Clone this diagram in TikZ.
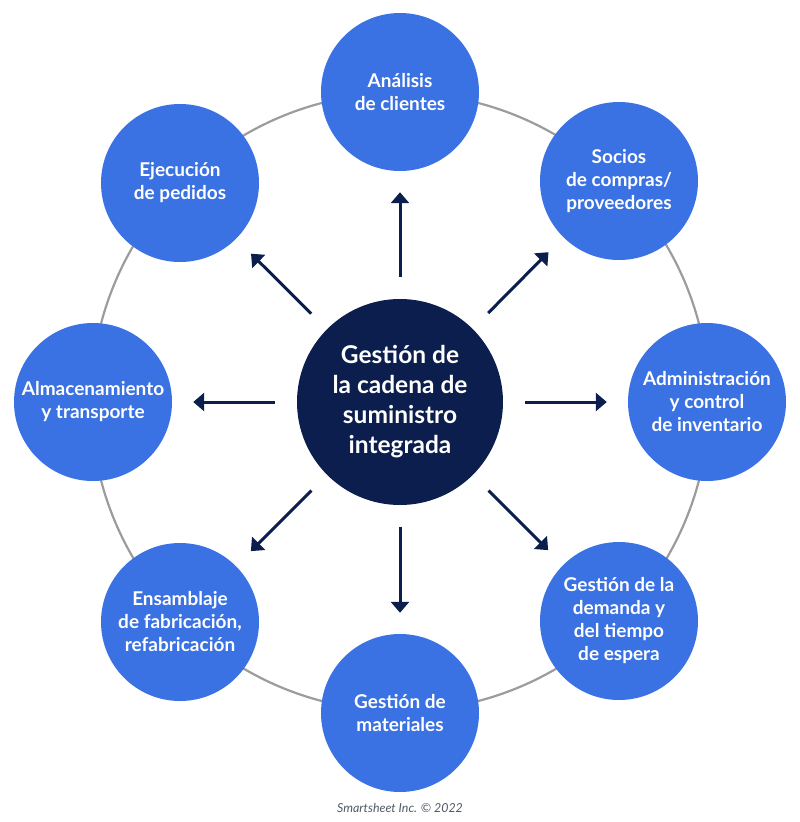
\documentclass[tikz,border=0pt]{standalone}
\usepackage{fontspec}
\setmainfont{Lato}
\newfontfamily\labfont{Lato Bold}
\usetikzlibrary{arrows.meta}
\definecolor{cblue}{HTML}{3A71E3}
\definecolor{cnavy}{HTML}{0B1E4D}
\definecolor{cring}{HTML}{9C9C9C}
\definecolor{cfoot}{HTML}{505A66}
\tikzset{
  outer/.style={circle, fill=cblue, minimum size=158pt, inner sep=0pt, align=center, text=white, font=\labfont\fontsize{19}{23}\selectfont},
  hub/.style={circle, fill=cnavy, minimum size=206pt, inner sep=0pt, align=center, text=white, font=\labfont\fontsize{24.5}{30}\selectfont},
  spoke/.style={draw=cnavy, line width=3pt, -{Triangle[width=18pt,length=11pt]}, shorten <=22pt, shorten >=21pt},
  ring/.style={draw=cring, line width=2.2pt}
}
\begin{document}
\begin{tikzpicture}[x=1pt,y=-1pt]
\useasboundingbox (0,0) rectangle (800,822);
\coordinate (rc) at (400,402);
\draw[ring] (rc) circle[radius=309pt];
\node[hub] (c) at (400,402) {Gestión de\\la cadena de\\suministro\\integrada};
\node[outer] (t) at (400,92) {Análisis\\de clientes};
\node[outer] (tr) at (619,181) {Socios\\de compras/\\proveedores};
\node[outer] (r) at (707,402) {Administración\\y control\\de inventario};
\node[outer] (br) at (619,621) {Gestión de la\\demanda y\\del tiempo\\de espera};
\node[outer] (b) at (400,713) {Gestión de\\materiales};
\node[outer] (bl) at (180,622) {Ensamblaje\\de fabricación,\\refabricación};
\node[outer] (l) at (93,402) {Almacenamiento\\y transporte};
\node[outer] (tl) at (180,183) {Ejecución\\de pedidos};
\foreach \n in {t,tr,r,br,b,bl,l,tl} \draw[spoke] (c) -- (\n);
\node[font=\itshape\fontsize{12.4}{14}\selectfont, text=cfoot] (foot) at (400,808) {Smartsheet Inc. © 2022};
\end{tikzpicture}
\end{document}
